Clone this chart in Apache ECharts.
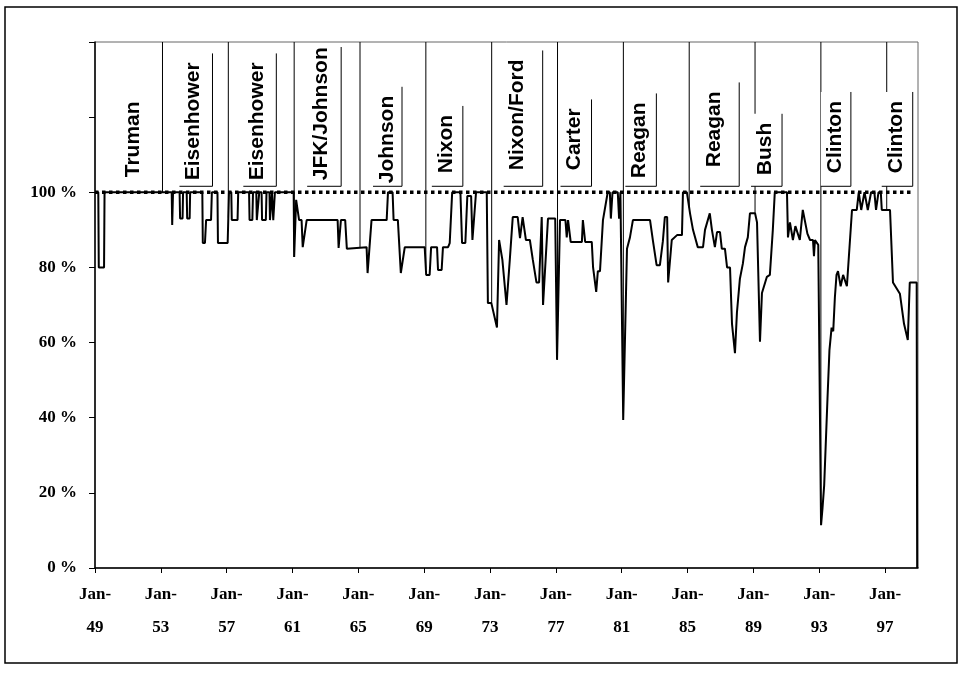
<!DOCTYPE html>
<html><head><meta charset="utf-8">
<script src="https://cdn.jsdelivr.net/npm/echarts@6/dist/echarts.min.js"></script>
<style>html,body{margin:0;padding:0;background:#fff}#c{width:963px;height:676px}</style>
</head><body><div id="c"></div>
<script>
// ---- data ----
const years = [
1949.00,1949.20,1949.23,1949.55,1949.58,1953.66,1953.69,1953.74,1954.14,1954.17,1954.32,1954.35,1954.57,1954.60,1954.75,1954.78,
1955.52,1955.55,1955.68,1955.75,1956.05,1956.10,1956.44,1956.47,1957.06,1957.14,1957.28,1957.31,1957.66,1957.70,
1958.36,1958.39,1958.56,1958.60,1958.80,1958.83,1958.95,1958.98,1959.12,1959.15,1959.38,1959.42,1959.60,1959.63,1959.72,1959.75,
1959.80,1959.83,1959.90,1959.93,1961.07,1961.10,1961.16,1961.22,1961.30,1961.40,1961.55,1961.62,1961.74,1961.86,
1963.74,1963.80,1963.86,1963.94,1964.20,1964.30,1965.50,1965.56,1965.62,1965.80,1966.72,1966.80,1967.08,1967.14,1967.40,1967.58,
1967.70,1967.82,1969.03,1969.12,1969.33,1969.42,1969.78,1969.84,1970.06,1970.14,1970.45,1970.55,1970.62,1970.70,
1971.20,1971.30,1971.50,1971.62,1971.85,1971.93,1972.05,1972.15,1972.80,1972.87,1973.08,1973.20,1973.42,1973.55,1973.75,
1974.00,1974.20,1974.38,1974.68,1974.82,1974.98,1975.18,1975.42,1975.60,1975.82,1975.98,1976.14,1976.22,1976.52,1976.96,
1977.07,1977.25,1977.58,1977.66,1977.74,1977.82,1977.90,1978.58,1978.64,1978.72,1978.78,1979.18,1979.26,1979.45,1979.55,
1979.68,1979.86,1979.98,1980.15,1980.28,1980.34,1980.44,1980.76,1980.84,1980.92,1981.00,1981.09,1981.32,1981.50,1981.68,
1982.72,1982.90,1983.12,1983.32,1983.50,1983.62,1983.76,1983.82,1984.04,1984.36,1984.66,1984.72,1984.96,1985.15,1985.33,
1985.62,1985.94,1986.06,1986.35,1986.48,1986.66,1986.79,1986.97,1987.08,1987.27,1987.40,1987.58,1987.70,1987.88,1988.00,
1988.18,1988.36,1988.49,1988.66,1988.79,1989.10,1989.22,1989.40,1989.52,1989.82,1990.00,1990.18,1990.30,1991.04,1991.10,
1991.22,1991.40,1991.55,1991.82,1992.00,1992.12,1992.28,1992.44,1992.62,1992.68,1992.74,1992.94,1993.11,1993.20,1993.30,
1993.50,1993.62,1993.75,1993.85,1993.95,1994.05,1994.14,1994.30,1994.45,1994.68,1994.76,1994.99,1995.28,1995.40,1995.55,
1995.75,1995.95,1996.15,1996.35,1996.45,1996.60,1996.74,1996.80,1997.30,1997.48,1997.60,1997.90,1998.15,1998.38,1998.50,
1998.92,1998.95
];
const pct = [
100,100,80,80,100,100,91.3,100,100,93,93,100,100,93,93,100,
100,86.5,86.5,92.6,92.6,100,100,86.5,86.5,100,100,92.6,92.6,100,
100,92.6,92.6,100,100,92.6,92.6,100,100,92.6,92.6,100,100,92.6,92.6,100,
100,92.6,92.6,100,100,82.8,82.8,98,98,92.6,92.6,85.4,85.4,92.6,
92.6,85.2,85.2,92.6,92.6,85,85.4,78.5,78.5,92.6,92.6,100,100,92.6,92.6,78.5,
78.5,85.4,85.4,78,78,85.4,85.4,79.3,79.3,85.4,85.4,86.5,86.5,100,
100,86.5,86.5,99,99,87.3,87.3,100,100,70.5,70.5,70,64,87.3,82,
70,82,93.4,93.4,87.8,93.4,87.3,87.3,82,76,76,93.4,70,93,93,
55.4,92.6,92.6,88,92.6,92.6,86.8,86.8,92.6,92.6,86.8,86.8,80,73.5,79,
79,92.6,92.6,100,100,93,100,100,93,100,100,39.4,85,88,92.6,
92.6,87,80.6,80.6,87,93.4,93.4,76,87.3,88.6,88.6,100,100,94.4,90,
85.4,85.4,90,94.4,90,85.4,89.4,89.4,85,85,80,80,65,57.2,68,
77,81,85.4,88,94.4,94.4,92,60.2,73.2,77.5,78,90,100,100,88,
92,87.3,91,87.3,95.3,95.3,89,87.3,87.3,83,87.3,86,11.4,16,22,
45,58,64,63,72,78,79,75,78,75,75,95.3,95.3,100,95.3,
100,95.3,100,100,95.3,100,100,95.3,95.3,76,76,73,65,60.7,76,
76,0
];
const xTickYears = [1949,1953,1957,1961,1965,1969,1973,1977,1981,1985,1989,1993,1997];
const termStarts = [1949.0,1953.1,1957.1,1961.1,1965.1,1969.1,1973.1,1977.1,1981.1,1985.1,1989.1,1993.1,1997.1];
const termNames = ['Truman','Eisenhower','Eisenhower','JFK/Johnson','Johnson','Nixon','Nixon/Ford','Carter','Reagan','Reagan','Bush','Clinton','Clinton'];
const fullLevel = 100;
const axisTop = 140;

// ---- layout / style (pixel offsets for the annotation boxes) ----
const labelDx   = [38,31,29,27,27,20,26,17,16,25,10,14,9];
const labelLift = [15,12,12,12,9,19,22,22,14,25,17,19,19];
const boxRight  = [0,19,19,20,15,17,25,17,17,25,17,16,17];
const LABEL_FONT = 'bold 21px "Liberation Sans", Arial, sans-serif';
const SERIF = '"Liberation Serif", "Times New Roman", serif';

const mctx = document.createElement('canvas').getContext('2d');
mctx.font = LABEL_FONT;
function textLen(s){ return mctx.measureText(s).width; }

function interp(t){
  for (let i = 1; i < years.length; i++) {
    if (years[i] >= t) {
      const a = years[i-1], b = years[i];
      const f = b === a ? 0 : (t - a) / (b - a);
      return pct[i-1] + f * (pct[i] - pct[i-1]);
    }
  }
  return pct[pct.length-1];
}

const chart = echarts.init(document.getElementById('c'), null, {renderer:'canvas'});
chart.setOption({
  animation: false,
  backgroundColor: '#fff',
  graphic: [{
    type: 'rect', shape: {x: 5, y: 7, width: 952, height: 656},
    style: {fill: null, stroke: '#000', lineWidth: 1.5}, silent: true
  }],
  grid: {left: 95, right: 45, top: 42, bottom: 108, show: true, borderColor: '#666', borderWidth: 1, backgroundColor: 'transparent'},
  xAxis: {
    type: 'value', min: 1949, max: 1999,
    axisLine: {lineStyle: {color: '#000', width: 1.5}},
    axisTick: {show: true, customValues: xTickYears, length: 5, lineStyle: {color: '#000'}},
    axisLabel: {
      customValues: xTickYears,
      formatter: v => 'Jan-\n' + String(Math.round(v)).slice(2),
      fontFamily: SERIF, fontWeight: 'bold', fontSize: 17, color: '#000',
      lineHeight: 33, margin: 10
    },
    splitLine: {show: false}
  },
  yAxis: {
    type: 'value', min: 0, max: axisTop, interval: 20,
    axisLine: {show: true, lineStyle: {color: '#000', width: 1.5}},
    axisTick: {show: true, length: 6, lineStyle: {color: '#000'}},
    axisLabel: {
      formatter: v => v <= fullLevel ? v + ' %' : '',
      fontFamily: SERIF, fontWeight: 'bold', fontSize: 17, color: '#000', margin: 18
    },
    splitLine: {show: false}
  },
  series: [
    {
      type: 'custom', silent: true, z: 3,
      data: termStarts.slice(1).map(t => [t, interp(t)]),
      renderItem: (params, api) => {
        const t = api.value(0), v = api.value(1);
        const p1 = api.coord([t, axisTop]), p2 = api.coord([t, v]);
        return {type: 'line', shape: {x1: p1[0], y1: p1[1], x2: p2[0], y2: p2[1]},
                style: {stroke: '#000', lineWidth: 1}};
      }
    },
    {
      type: 'line', silent: true, z: 4, symbol: 'none',
      data: [[1949, fullLevel], [1998.55, fullLevel]],
      lineStyle: {color: '#000', width: 3.5, type: [3.5, 3.5]}
    },
    {
      type: 'custom', silent: true, z: 5,
      data: termNames.map((n, i) => [termStarts[i], fullLevel]),
      renderItem: (params, api) => {
        const i = params.dataIndex;
        const base = api.coord([api.value(0), api.value(1)]);
        const plotTop = api.coord([api.value(0), axisTop])[1];
        const cx = base[0] + labelDx[i];
        const by = base[1] - labelLift[i];
        const L = textLen(termNames[i]);
        const children = [];
        if (i > 0) {
          const left = cx - 14, right = cx + boxRight[i];
          const top = Math.max(by - L - 9, plotTop + 5), bottom = base[1] - 6;
          children.push({type: 'rect', shape: {x: left, y: top, width: right - left, height: bottom - top},
                         style: {fill: '#fff'}});
          children.push({type: 'polyline', shape: {points: [[right, top], [right, bottom], [left, bottom]]},
                         style: {stroke: '#000', lineWidth: 1, fill: null}});
        }
        children.push({type: 'text', x: cx, y: by, rotation: Math.PI / 2,
          style: {text: termNames[i], font: LABEL_FONT, fill: '#000', align: 'left', verticalAlign: 'middle'}});
        return {type: 'group', children};
      }
    },
    {
      type: 'line', silent: true, z: 6, symbol: 'none',
      data: years.map((y, i) => [y, pct[i]]),
      lineStyle: {color: '#000', width: 2}
    }
  ]
});
</script>
</body></html>
